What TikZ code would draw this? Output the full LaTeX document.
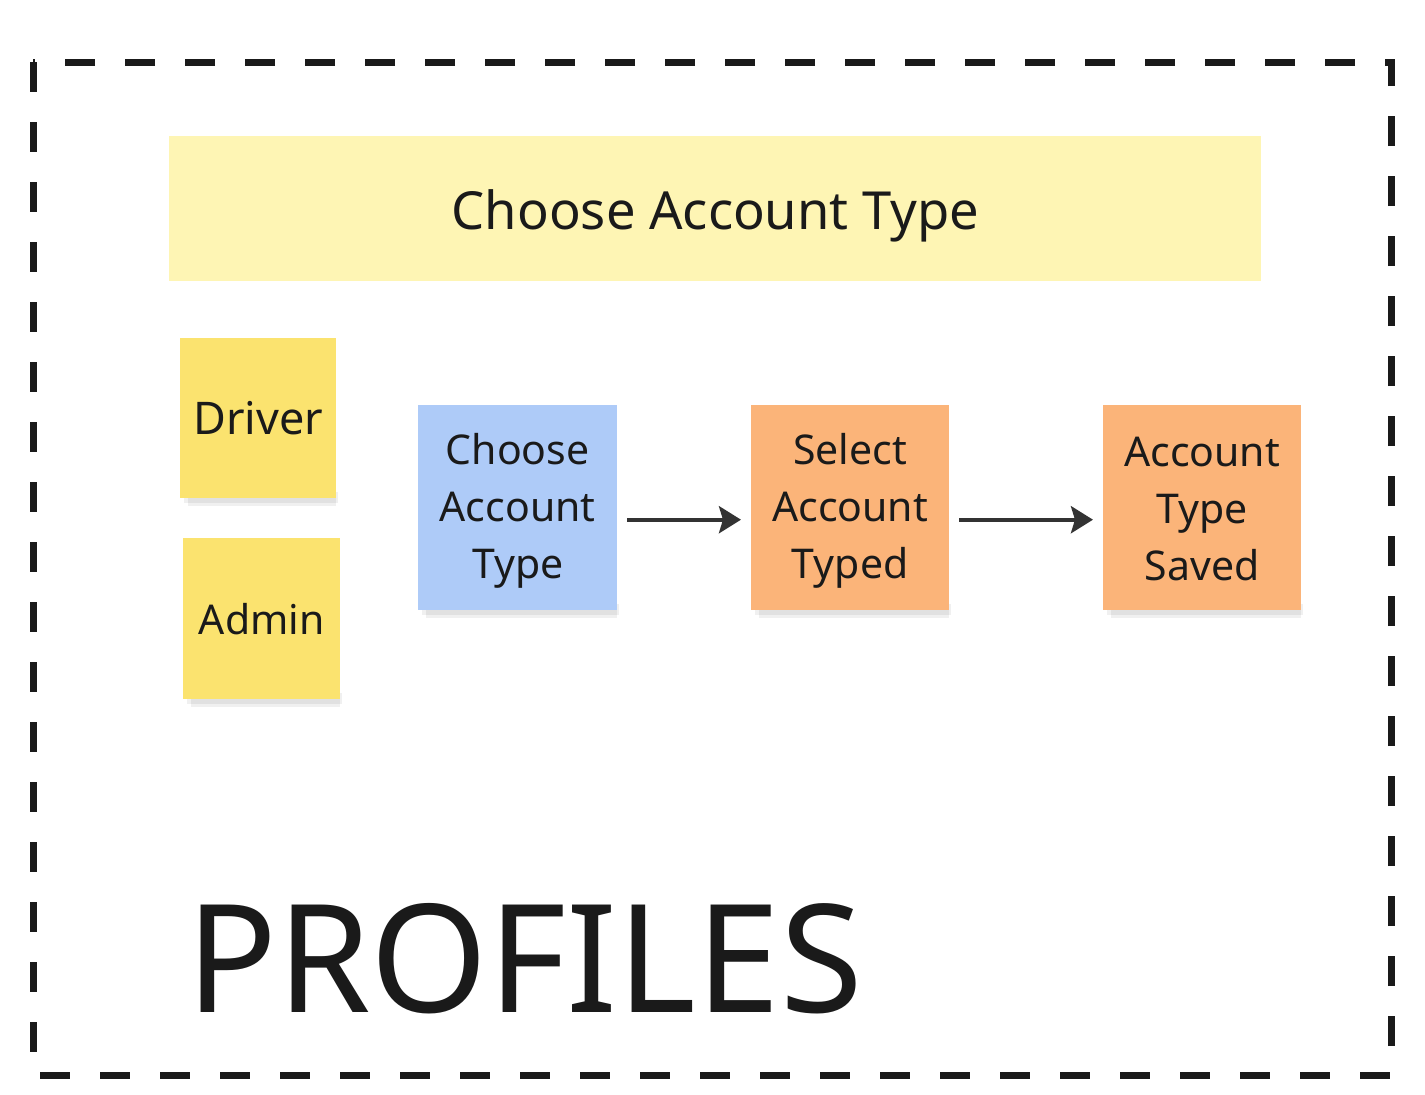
\documentclass[tikz,border=0pt]{standalone}
\usepackage{fontspec}
\setmainfont{Noto Sans}
\usetikzlibrary{arrows.meta}
\definecolor{ink}{HTML}{1A1A1A}
\definecolor{headerfill}{HTML}{FEF5B4}
\definecolor{yellownote}{HTML}{FBE36F}
\definecolor{bluenote}{HTML}{AECBF8}
\definecolor{orangenote}{HTML}{FBB479}
\definecolor{arrowgray}{HTML}{333333}
\tikzset{
  notebox/.style={minimum width=#1, inner sep=0pt, anchor=north west},
  notetext/.style={inner sep=0pt, align=center, text=ink, font=\fontsize{41}{57}\selectfont},
  sticky/.style={notebox=198pt, minimum height=205pt},
  smallsticky/.style={notebox=157pt, minimum height=161pt},
  flow/.style={draw=arrowgray, line width=4pt, -{Stealth[length=22pt,width=27pt,inset=4pt]}},
  shadowbox/.style={fill=black, opacity=0.06}
}
\begin{document}
\begin{tikzpicture}[x=1pt,y=-1pt]
\useasboundingbox (0,0) rectangle (1425,1095);
\fill[white] (0,0) rectangle (1425,1095);
% frame
\draw[ink, line width=7pt, dash pattern=on 30pt off 30pt] (33,62) rectangle (1391,1075);
% header
\node[fill=headerfill, minimum width=1092pt, minimum height=145pt, inner sep=0pt, anchor=north west] (header) at (169,136) {};
\node[text=ink, font=\fontsize{52.5}{60}\selectfont, anchor=base, inner sep=0pt] (headertext) at (715.5,229) {Choose Account Type};
% shadows
\foreach \xa/\ya/\xb/\yb in {180/338/336/498, 183/538/340/699, 418/405/617/610, 751/405/949/610, 1103/405/1301/610}{
  \fill[shadowbox] (\xa+4,\yb-6) rectangle (\xb+2,\yb+5);
  \fill[shadowbox] (\xa+8,\yb-4) rectangle (\xb,\yb+8);
}
% stickies
\node[smallsticky, minimum width=156pt, minimum height=160pt, fill=yellownote] (driver) at (180,338) {};
\node[notetext, font=\fontsize{45}{57}\selectfont] (drivertext) at (driver.center) {Driver};
\node[smallsticky, fill=yellownote] (admin) at (183,538) {};
\node[notetext] (admintext) at (admin.center) {Admin};
\node[sticky, minimum width=199pt, fill=bluenote] (choose) at (418,405) {};
\node[notetext] (choosetext) at ([yshift=-3pt]choose.center) {Choose\\Account\\Type};
\node[sticky, fill=orangenote] (select) at (751,405) {};
\node[notetext] (selecttext) at ([yshift=-3pt]select.center) {Select\\Account\\Typed};
\node[sticky, fill=orangenote] (saved) at (1103,405) {};
\node[notetext] (savedtext) at ([yshift=-1pt]saved.center) {Account\\Type\\Saved};
% arrows
\draw[flow] ([xshift=10pt,yshift=-12pt]choose.east) -- ([xshift=-10pt,yshift=-12pt]select.west);
\draw[flow] ([xshift=10pt,yshift=-12pt]select.east) -- ([xshift=-10pt,yshift=-12pt]saved.west);
% title
\node[anchor=base west, inner sep=0pt, text=ink, font=\fontsize{150.5}{160}\selectfont] (title) at (186,1012) {PROFILES};
\end{tikzpicture}
\end{document}
